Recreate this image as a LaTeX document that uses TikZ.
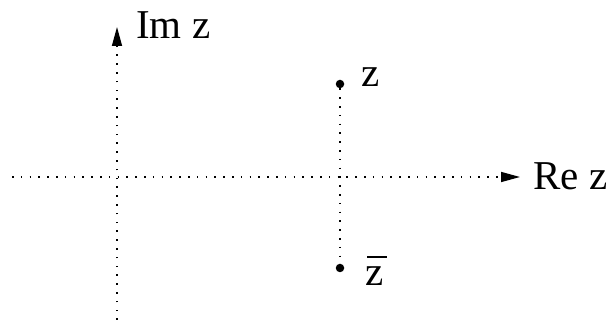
\documentclass[tikz,border=0pt]{standalone}
\usepackage{fontspec}
\setmainfont{Liberation Serif}
\usetikzlibrary{arrows.meta}
\begin{document}
\begin{tikzpicture}[x=1pt,y=-1pt,
  axis/.style={line width=1.5pt,dash pattern=on 1.5pt off 7.3pt,
    -{Triangle[length=19pt,width=10pt]}},
  dotline/.style={line width=1.5pt,dash pattern=on 1.5pt off 7.3pt},
  lbl/.style={font=\fontsize{41}{44}\selectfont,inner sep=0pt,anchor=base west},
  pt/.style={circle,fill=black,inner sep=0pt,minimum size=8.5pt},
  bar/.style={line width=2pt}]
\useasboundingbox (0,0) rectangle (611,320);
\coordinate (hs) at (12,177);
\coordinate (he) at (520,177);
\coordinate (vs) at (117,320);
\coordinate (ve) at (117,27);
\draw[axis] (hs) -- (he);
\draw[axis] (vs) -- (ve);
\node[pt] (z) at (340,84) {};
\node[pt] (zb) at (340,268) {};
\draw[dotline] (z) -- (zb);
\node[lbl] (im) at (136,39) {Im z};
\node[lbl] (re) at (533,190) {Re z};
\node[lbl] (zl) at (361,87) {z};
\node[lbl] (zbl) at (365,286) {z};
\coordinate (b1) at (367,257);
\coordinate (b2) at (387,257);
\draw[bar] (b1) -- (b2);
\end{tikzpicture}
\end{document}
